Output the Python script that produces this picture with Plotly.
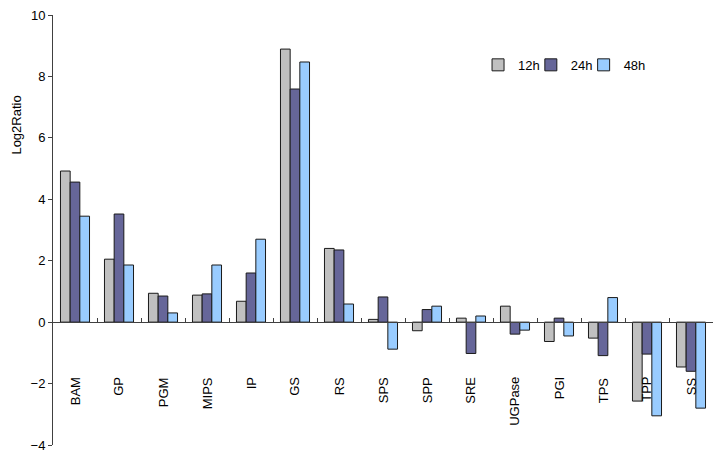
import plotly.graph_objects as go

categories = ["BAM", "GP", "PGM", "MIPS", "IP", "GS", "RS", "SPS", "SPP", "SRE",
              "UGPase", "PGI", "TPS", "TPP", "SS"]
v12h = [4.92, 2.05, 0.94, 0.88, 0.68, 8.89, 2.40, 0.09, -0.28, 0.13, 0.52, -0.63, -0.52, -2.57, -1.46]
v24h = [4.56, 3.52, 0.85, 0.92, 1.60, 7.59, 2.35, 0.82, 0.41, -1.02, -0.39, 0.13, -1.09, -1.04, -1.60]
v48h = [3.45, 1.86, 0.30, 1.86, 2.70, 8.47, 0.59, -0.88, 0.52, 0.20, -0.26, -0.45, 0.80, -3.05, -2.80]
series = [("12h", v12h, "#C0C0C0"), ("24h", v24h, "#666699"), ("48h", v48h, "#99CCFF")]
legend_names = ["legend", "legend2", "legend3"]
legend_x = [0.644, 0.724, 0.804]

font = dict(family="Liberation Sans, Arial, sans-serif", size=13, color="#000000")

fig = go.Figure()
for (name, vals, col), lg in zip(series, legend_names):
    fig.add_trace(go.Bar(x=categories, y=vals, name=name, marker_color=col,
                         marker_line=dict(color="#1a1a1a", width=1), legend=lg))

annotations = [dict(x=c, y=-1.73, xref="x", yref="y", text=c, textangle=-90,
                    showarrow=False, yanchor="top", xanchor="center", font=font)
               for c in categories]
annotations.append(dict(x=-0.0545, y=6.4, xref="paper", yref="y", text="Log2Ratio",
                        textangle=-90, showarrow=False, xanchor="center", yanchor="middle",
                        font=font))

legend_common = dict(orientation="h", y=0.884, xanchor="left", yanchor="middle",
                     font=font, itemwidth=30, bgcolor="rgba(0,0,0,0)")

fig.update_layout(
    width=723, height=458,
    margin=dict(l=53, r=10, t=15, b=13, autoexpand=False),
    paper_bgcolor="white", plot_bgcolor="white",
    font=font,
    barmode="group", bargap=0.34, bargroupgap=0,
    showlegend=True,
    legend=dict(x=legend_x[0], **legend_common),
    legend2=dict(x=legend_x[1], **legend_common),
    legend3=dict(x=legend_x[2], **legend_common),
    annotations=annotations,
    xaxis=dict(type="category", anchor="free", position=4/14, showline=True,
               linecolor="#404040", linewidth=1, ticks="inside", tickson="boundaries",
               ticklen=4, tickcolor="#404040", showticklabels=False, showgrid=False,
               zeroline=False, automargin=False),
    yaxis=dict(range=[-4, 10], dtick=2, showline=True, linecolor="#404040", linewidth=1,
               ticks="outside", ticklen=4, tickcolor="#404040", showgrid=False,
               zeroline=False, tickfont=font, automargin=False),
)

fig.write_html("out.html", config={"displayModeBar": False},
               post_script="document.body.style.margin='0';")
